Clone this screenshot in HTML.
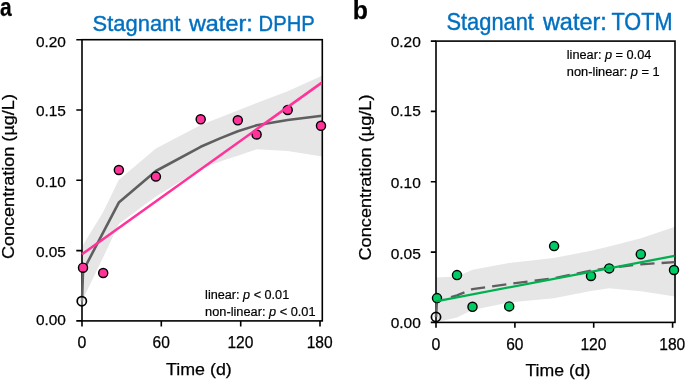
<!DOCTYPE html>
<html><head><meta charset="utf-8"><style>
html,body{margin:0;padding:0;background:#fff;width:685px;height:380px;overflow:hidden;font-family:"Liberation Sans",sans-serif;}
svg{display:block;will-change:transform}
</style></head><body>
<svg width="685" height="380" viewBox="0 0 685 380">
<polygon points="82.0,252.0 83.0,245.0 103.2,212.0 118.7,180.0 155.9,148.5 200.7,125.0 237.8,110.5 256.6,103.0 287.7,91.2 322.5,75.6 322.0,156.5 287.7,151.0 256.6,149.3 237.8,155.8 223.0,160.5 200.7,169.0 155.9,196.5 118.8,224.0 103.2,257.3 83.0,299.0 82.0,302.0" fill="#e6e6e6"/>
<polygon points="436.0,277.5 457.0,276.5 472.5,269.8 509.0,263.0 553.7,258.0 591.0,250.8 609.0,246.5 641.0,238.3 675.0,226.8 675.0,296.5 641.0,291.3 609.0,288.2 591.0,291.0 553.7,298.2 509.0,302.6 472.5,310.0 457.0,317.5 441.5,321.0 436.0,321.5" fill="#e6e6e6"/>
<rect x="82" y="39.7" width="240.3" height="281.2" fill="none" stroke="#000" stroke-width="1.6"/>
<rect x="436" y="41.1" width="239" height="281.3" fill="none" stroke="#000" stroke-width="1.6"/>
<path d="M76.3 320.9H82 M76.3 250.6H82 M76.3 180.3H82 M76.3 110.0H82 M76.3 39.7H82 M82.0 320.9V326.4 M161.3 320.9V326.4 M240.7 320.9V326.4 M320.0 320.9V326.4 M430.8 322.4H436 M430.8 252.1H436 M430.8 181.7H436 M430.8 111.4H436 M430.8 41.1H436 M436.0 322.4V327.8 M514.9 322.4V327.8 M593.7 322.4V327.8 M672.6 322.4V327.8" stroke="#000" stroke-width="1.6" fill="none"/>
<polyline points="82.0,301.2 83.0,271.0 103.2,232.4 118.8,202.6 155.9,171.0 200.7,146.8 220.0,138.4 237.8,131.3 256.6,125.3 287.7,120.0 322.0,115.8" fill="none" stroke="#5f5f5f" stroke-width="2.6" stroke-linejoin="round"/>
<circle cx="81.8" cy="301.2" r="4.6" fill="#fff" fill-opacity="0.3" stroke="#000" stroke-width="1.7"/>
<circle cx="83" cy="267.7" r="4.55" fill="#ff3399" stroke="#000" stroke-width="1.4"/>
<circle cx="103.2" cy="273" r="4.55" fill="#ff3399" stroke="#000" stroke-width="1.4"/>
<circle cx="118.85" cy="170" r="4.55" fill="#ff3399" stroke="#000" stroke-width="1.4"/>
<circle cx="155.9" cy="176.6" r="4.55" fill="#ff3399" stroke="#000" stroke-width="1.4"/>
<circle cx="200.7" cy="119.3" r="4.55" fill="#ff3399" stroke="#000" stroke-width="1.4"/>
<circle cx="237.8" cy="120.3" r="4.55" fill="#ff3399" stroke="#000" stroke-width="1.4"/>
<circle cx="256.6" cy="134.5" r="4.55" fill="#ff3399" stroke="#000" stroke-width="1.4"/>
<circle cx="287.7" cy="110" r="4.55" fill="#ff3399" stroke="#000" stroke-width="1.4"/>
<circle cx="321" cy="125.8" r="4.55" fill="#ff3399" stroke="#000" stroke-width="1.4"/>
<polyline points="82.0,254.3 321.5,82.9" fill="none" stroke="#ff3399" stroke-width="2.6"/>
<polyline points="436,317 437,298.5" fill="none" stroke="#5f5f5f" stroke-width="2.6"/>
<polyline points="444.0,299.2 457.0,295.3 472.5,289.1 509.0,284.0 553.7,278.2 591.0,270.6 609.2,267.8 640.8,264.4 674.5,262.1" fill="none" stroke="#5f5f5f" stroke-width="2.3" stroke-dasharray="14.3 7.1" stroke-dashoffset="14.1"/>
<circle cx="436" cy="317" r="4.6" fill="none" stroke="#000" stroke-width="1.7"/>
<circle cx="437" cy="298.1" r="4.55" fill="#00cc66" stroke="#000" stroke-width="1.4"/>
<circle cx="457" cy="275.1" r="4.55" fill="#00cc66" stroke="#000" stroke-width="1.4"/>
<circle cx="472.5" cy="306.8" r="4.55" fill="#00cc66" stroke="#000" stroke-width="1.4"/>
<circle cx="509.2" cy="306.4" r="4.55" fill="#00cc66" stroke="#000" stroke-width="1.4"/>
<circle cx="554.1" cy="246.1" r="4.55" fill="#00cc66" stroke="#000" stroke-width="1.4"/>
<circle cx="591" cy="276" r="4.55" fill="#00cc66" stroke="#000" stroke-width="1.4"/>
<circle cx="609.2" cy="268.4" r="4.55" fill="#00cc66" stroke="#000" stroke-width="1.4"/>
<circle cx="640.8" cy="254.2" r="4.55" fill="#00cc66" stroke="#000" stroke-width="1.4"/>
<circle cx="674" cy="270" r="4.55" fill="#00cc66" stroke="#000" stroke-width="1.4"/>
<polyline points="436.0,301.3 674.5,255.8" fill="none" stroke="#00b050" stroke-width="2.3"/>
<text x="-0.02" y="15.8" font-family="Liberation Sans, sans-serif" font-size="25.5" font-weight="bold" fill="#000" textLength="11.68" lengthAdjust="spacingAndGlyphs" stroke="#000" stroke-width="0.25">a</text>
<text x="352.66" y="19.1" font-family="Liberation Sans, sans-serif" font-size="25.5" font-weight="bold" fill="#000" textLength="15.15" lengthAdjust="spacingAndGlyphs" stroke="#000" stroke-width="0.25">b</text>
<text x="92.6" y="30.6" font-family="Liberation Sans, sans-serif" font-size="22.6" fill="#0070c0" textLength="87.76" lengthAdjust="spacingAndGlyphs" stroke="#0070c0" stroke-width="0.4">Stagnant</text>
<text x="188.93" y="30.6" font-family="Liberation Sans, sans-serif" font-size="22.6" fill="#0070c0" textLength="63.81" lengthAdjust="spacingAndGlyphs" stroke="#0070c0" stroke-width="0.4">water:</text>
<text x="258.54" y="30.6" font-family="Liberation Sans, sans-serif" font-size="22.6" fill="#0070c0" textLength="56.23" lengthAdjust="spacingAndGlyphs" stroke="#0070c0" stroke-width="0.4">DPHP</text>
<text x="446.41" y="30.2" font-family="Liberation Sans, sans-serif" font-size="23.0" fill="#0070c0" textLength="87.55" lengthAdjust="spacingAndGlyphs" stroke="#0070c0" stroke-width="0.4">Stagnant</text>
<text x="542.93" y="30.2" font-family="Liberation Sans, sans-serif" font-size="23.0" fill="#0070c0" textLength="63.91" lengthAdjust="spacingAndGlyphs" stroke="#0070c0" stroke-width="0.4">water:</text>
<text x="611.42" y="30.2" font-family="Liberation Sans, sans-serif" font-size="23.0" fill="#0070c0" textLength="61.05" lengthAdjust="spacingAndGlyphs" stroke="#0070c0" stroke-width="0.4">TOTM</text>
<text x="35.9" y="324.8" font-family="Liberation Sans, sans-serif" font-size="15.5" fill="#000" textLength="30.0" lengthAdjust="spacingAndGlyphs" stroke="#000" stroke-width="0.25">0.00</text>
<text x="390.7" y="327.8" font-family="Liberation Sans, sans-serif" font-size="15.5" fill="#000" textLength="30.11" lengthAdjust="spacingAndGlyphs" stroke="#000" stroke-width="0.25">0.00</text>
<text x="35.9" y="256.8" font-family="Liberation Sans, sans-serif" font-size="15.5" fill="#000" textLength="30.05" lengthAdjust="spacingAndGlyphs" stroke="#000" stroke-width="0.25">0.05</text>
<text x="390.69" y="259.1" font-family="Liberation Sans, sans-serif" font-size="15.5" fill="#000" textLength="30.16" lengthAdjust="spacingAndGlyphs" stroke="#000" stroke-width="0.25">0.05</text>
<text x="35.9" y="186.6" font-family="Liberation Sans, sans-serif" font-size="15.5" fill="#000" textLength="30.0" lengthAdjust="spacingAndGlyphs" stroke="#000" stroke-width="0.25">0.10</text>
<text x="390.7" y="187.9" font-family="Liberation Sans, sans-serif" font-size="15.5" fill="#000" textLength="30.11" lengthAdjust="spacingAndGlyphs" stroke="#000" stroke-width="0.25">0.10</text>
<text x="35.9" y="115.7" font-family="Liberation Sans, sans-serif" font-size="15.5" fill="#000" textLength="30.05" lengthAdjust="spacingAndGlyphs" stroke="#000" stroke-width="0.25">0.15</text>
<text x="390.69" y="116.25" font-family="Liberation Sans, sans-serif" font-size="15.5" fill="#000" textLength="30.16" lengthAdjust="spacingAndGlyphs" stroke="#000" stroke-width="0.25">0.15</text>
<text x="35.9" y="46.6" font-family="Liberation Sans, sans-serif" font-size="15.5" fill="#000" textLength="30.0" lengthAdjust="spacingAndGlyphs" stroke="#000" stroke-width="0.25">0.20</text>
<text x="390.7" y="47.0" font-family="Liberation Sans, sans-serif" font-size="15.5" fill="#000" textLength="30.11" lengthAdjust="spacingAndGlyphs" stroke="#000" stroke-width="0.25">0.20</text>
<text x="77.58" y="347.8" font-family="Liberation Sans, sans-serif" font-size="15.6" fill="#000" textLength="8.84" lengthAdjust="spacingAndGlyphs" stroke="#000" stroke-width="0.25">0</text>
<text x="431.58" y="349.8" font-family="Liberation Sans, sans-serif" font-size="15.6" fill="#000" textLength="8.84" lengthAdjust="spacingAndGlyphs" stroke="#000" stroke-width="0.25">0</text>
<text x="152.59" y="347.8" font-family="Liberation Sans, sans-serif" font-size="15.6" fill="#000" textLength="17.3" lengthAdjust="spacingAndGlyphs" stroke="#000" stroke-width="0.25">60</text>
<text x="506.13" y="349.8" font-family="Liberation Sans, sans-serif" font-size="15.6" fill="#000" textLength="17.3" lengthAdjust="spacingAndGlyphs" stroke="#000" stroke-width="0.25">60</text>
<text x="227.38" y="347.8" font-family="Liberation Sans, sans-serif" font-size="15.6" fill="#000" textLength="26.0" lengthAdjust="spacingAndGlyphs" stroke="#000" stroke-width="0.25">120</text>
<text x="580.45" y="349.8" font-family="Liberation Sans, sans-serif" font-size="15.6" fill="#000" textLength="26.0" lengthAdjust="spacingAndGlyphs" stroke="#000" stroke-width="0.25">120</text>
<text x="306.71" y="347.8" font-family="Liberation Sans, sans-serif" font-size="15.6" fill="#000" textLength="26.0" lengthAdjust="spacingAndGlyphs" stroke="#000" stroke-width="0.25">180</text>
<text x="659.31" y="349.8" font-family="Liberation Sans, sans-serif" font-size="15.6" fill="#000" textLength="26.0" lengthAdjust="spacingAndGlyphs" stroke="#000" stroke-width="0.25">180</text>
<text x="166.0" y="375" font-family="Liberation Sans, sans-serif" font-size="16.3" fill="#000" textLength="65.79" lengthAdjust="spacingAndGlyphs" stroke="#000" stroke-width="0.25">Time (d)</text>
<text x="525.41" y="375.5" font-family="Liberation Sans, sans-serif" font-size="16.3" fill="#000" textLength="65.08" lengthAdjust="spacingAndGlyphs" stroke="#000" stroke-width="0.25">Time (d)</text>
<text transform="translate(14.4,259.12) rotate(-90)" font-family="Liberation Sans, sans-serif" font-size="16.8" stroke="#000" stroke-width="0.25" textLength="165.04" lengthAdjust="spacingAndGlyphs">Concentration (µg/L)</text>
<text transform="translate(370.6,260.52) rotate(-90)" font-family="Liberation Sans, sans-serif" font-size="16.8" stroke="#000" stroke-width="0.25" textLength="166.05" lengthAdjust="spacingAndGlyphs">Concentration (µg/L)</text>
<text x="205.1" y="299" font-family="Liberation Sans, sans-serif" font-size="12.5" stroke="#000" stroke-width="0.2" textLength="84.1" lengthAdjust="spacingAndGlyphs">linear: <tspan font-style="italic">p</tspan> &lt; 0.01</text>
<text x="205.1" y="315.7" font-family="Liberation Sans, sans-serif" font-size="12.5" stroke="#000" stroke-width="0.2" textLength="110.4" lengthAdjust="spacingAndGlyphs">non-linear: <tspan font-style="italic">p</tspan> &lt; 0.01</text>
<text x="566.8" y="58.7" font-family="Liberation Sans, sans-serif" font-size="12.5" stroke="#000" stroke-width="0.2" textLength="84.5" lengthAdjust="spacingAndGlyphs">linear: <tspan font-style="italic">p</tspan> = 0.04</text>
<text x="566.8" y="75.6" font-family="Liberation Sans, sans-serif" font-size="12.5" stroke="#000" stroke-width="0.2" textLength="92.9" lengthAdjust="spacingAndGlyphs">non-linear: <tspan font-style="italic">p</tspan> = 1</text>
</svg>
</body></html>
